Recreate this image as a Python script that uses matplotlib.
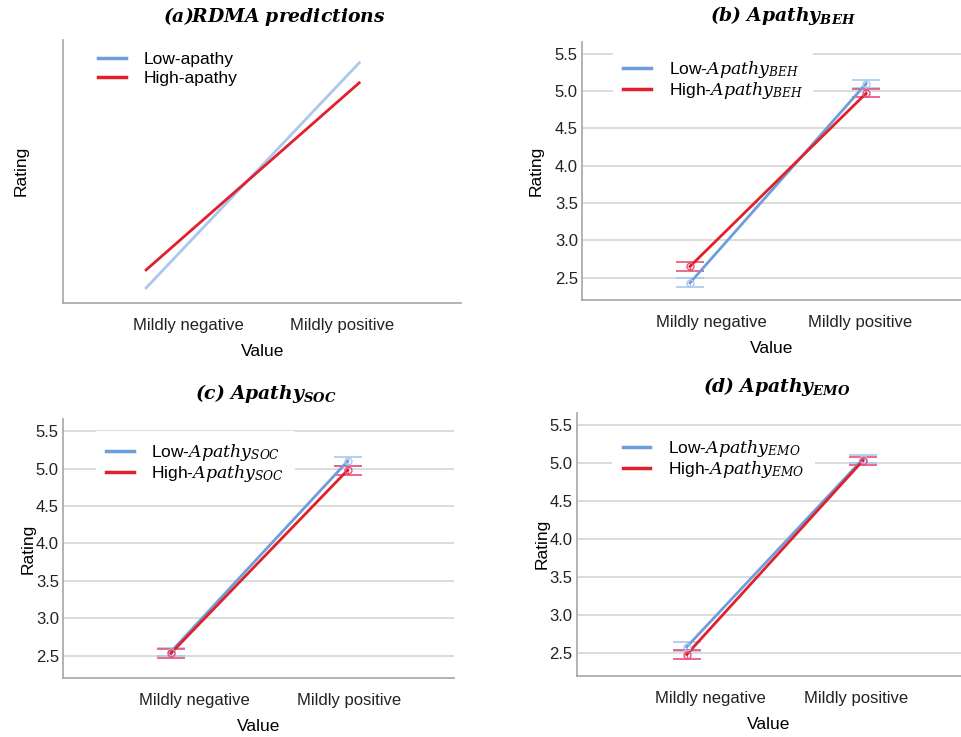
import numpy as np
import matplotlib
matplotlib.use("Agg")
import matplotlib.pyplot as plt

plt.rcParams['font.family'] = ['Liberation Sans', 'DejaVu Sans']
plt.rcParams['mathtext.fontset'] = 'dejavuserif'

categories = ['Mildly negative', 'Mildly positive']

# (a) RDMA predictions (no scale, schematic)
rdma_low = [0.15, 2.40]
rdma_high = [0.33, 2.20]

# (b) Apathy BEH
beh_low = [2.43, 5.10]
beh_low_ci = [(2.37, 2.49), (5.04, 5.15)]
beh_high = [2.65, 4.97]
beh_high_ci = [(2.59, 2.71), (4.92, 5.03)]

# (c) Apathy SOC
soc_low = [2.55, 5.10]
soc_low_ci = [(2.49, 2.60), (5.04, 5.15)]
soc_high = [2.53, 4.98]
soc_high_ci = [(2.47, 2.59), (4.92, 5.04)]

# (d) Apathy EMO
emo_low = [2.58, 5.05]
emo_low_ci = [(2.52, 2.65), (5.00, 5.11)]
emo_high = [2.48, 5.03]
emo_high_ci = [(2.42, 2.54), (4.97, 5.08)]

yticks = [2.5, 3.0, 3.5, 4.0, 4.5, 5.0, 5.5]

BLUE = '#6d9edb'
BLUE_LIGHT = '#a9c8ee'
RED = '#e0202a'
RED_ERR = '#e8507a'
SPINE = '#a6a6a6'
GRID = '#d9d9d9'

fig = plt.figure(figsize=(9.61, 7.37), dpi=100)


def style_axes(ax, ylabelpad=8):
    for s in ['top', 'right']:
        ax.spines[s].set_visible(False)
    for s in ['left', 'bottom']:
        ax.spines[s].set_color(SPINE)
        ax.spines[s].set_linewidth(1.2)
    ax.tick_params(axis='both', length=0, labelsize=12, colors='#222222')
    ax.tick_params(axis='x', pad=11)
    ax.tick_params(axis='y', pad=3)
    ax.set_xlabel('Value', fontsize=12.5, labelpad=8)
    ax.set_ylabel('Rating', fontsize=12.5, labelpad=ylabelpad)


def legend_opts(spacing):
    return dict(loc='upper left', fontsize=12.5, handlelength=1.6, handletextpad=1.0,
                labelspacing=spacing, borderpad=0.6)


def draw_panel(rect, title, title_x, sub, low, low_ci, high, high_ci, xlim, tick_pos,
               legend_anchor, ylabelpad=8):
    ax = fig.add_axes(rect)
    x = np.arange(len(categories))
    for vals, ci, col, ecol in [(low, low_ci, BLUE, BLUE_LIGHT), (high, high_ci, RED, RED_ERR)]:
        lo = np.array([v - c[0] for v, c in zip(vals, ci)])
        hi = np.array([c[1] - v for v, c in zip(vals, ci)])
        ax.errorbar(x, vals, yerr=[lo, hi], fmt='none', ecolor=ecol, elinewidth=1.0,
                    capsize=10, capthick=1.4, alpha=0.85, zorder=3)
        ax.plot(x, vals, color=col, lw=2.0, zorder=4)
        ax.plot(x, vals, 'o', mfc='none', mec=ecol, ms=5, mew=1.0, zorder=5)
    ax.set_xlim(*xlim)
    ax.set_ylim(2.2, 5.66)
    ax.set_yticks(yticks)
    ax.set_yticklabels([f'{t:.1f}' for t in yticks])
    ax.yaxis.grid(True, color=GRID, lw=1.3)
    ax.set_axisbelow(True)
    ax.set_xticks(tick_pos)
    ax.set_xticklabels(categories)
    style_axes(ax, ylabelpad)
    ax.set_title(title, fontsize=13.5, x=title_x, pad=15)
    h = [plt.Line2D([], [], color=BLUE, lw=2.5), plt.Line2D([], [], color=RED, lw=2.5)]
    ax.legend(h, [f'Low-$Apathy_{{{sub}}}$', f'High-$Apathy_{{{sub}}}$'],
              bbox_to_anchor=legend_anchor, frameon=True, facecolor='white',
              edgecolor='none', framealpha=1, fancybox=False, **legend_opts(0.0))
    return ax


# (a)
ax = fig.add_axes([0.0656, 0.589, 0.4144, 0.357])
x = np.arange(len(categories))
ax.plot(x, rdma_low, color=BLUE_LIGHT, lw=2.0, label='Low-apathy')
ax.plot(x, rdma_high, color=RED, lw=2.0, label='High-apathy')
ax.set_xlim(-0.39, 1.479)
ax.set_ylim(0, 2.63)
ax.set_yticks([])
ax.set_xticks([0.20, 0.92])
ax.set_xticklabels(categories)
style_axes(ax, ylabelpad=25)
ax.set_title(r'$\mathbfit{(a)RDMA\ predictions}$', fontsize=13.5, x=0.53, pad=13)
h = [plt.Line2D([], [], color=BLUE, lw=2.5), plt.Line2D([], [], color=RED, lw=2.5)]
ax.legend(h, ['Low-apathy', 'High-apathy'], bbox_to_anchor=(0.04, 1.027),
          frameon=False, **legend_opts(0.22))

draw_panel([0.6056, 0.593, 0.3944, 0.350], r'$\mathbfit{(b)\ Apathy_{BEH}}$', 0.53, 'BEH',
           beh_low, beh_low_ci, beh_high, beh_high_ci,
           (-0.614, 1.54), [0.119, 0.966], (0.059, 1.008))
draw_panel([0.0656, 0.080, 0.4064, 0.351], r'$\mathbfit{(c)\ Apathy_{SOC}}$', 0.52, 'SOC',
           soc_low, soc_low_ci, soc_high, soc_high_ci,
           (-0.61, 1.60), [0.136, 1.006], (0.062, 0.987), ylabelpad=0)
draw_panel([0.6000, 0.083, 0.4000, 0.357], r'$\mathbfit{(d)\ Apathy_{EMO}}$', 0.52, 'EMO',
           emo_low, emo_low_ci, emo_high, emo_high_ci,
           (-0.625, 1.557), [0.136, 0.96], (0.07, 0.978), ylabelpad=0)

fig.savefig('out.png', dpi=100)
